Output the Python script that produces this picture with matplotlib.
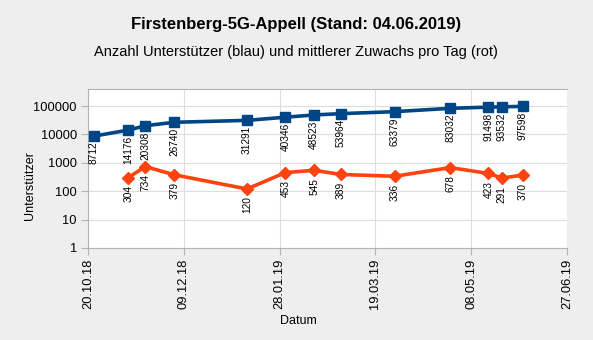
import matplotlib
matplotlib.use("Agg")
import matplotlib.pyplot as plt
import matplotlib.dates as mdates
import numpy as np
from datetime import datetime, timedelta

plt.rcParams['font.family'] = ['Liberation Sans', 'DejaVu Sans']

# Data
blue_dates = ["2018-10-23", "2018-11-10", "2018-11-19", "2018-12-04", "2019-01-11",
              "2019-01-31", "2019-02-15", "2019-03-01", "2019-03-29", "2019-04-27",
              "2019-05-17", "2019-05-24", "2019-06-04"]
supporters = [8712, 14176, 20308, 26740, 31291, 40346, 48523, 53964, 63379, 83032,
              91498, 93532, 97598]
red_dates = blue_dates[1:]
growth = [304, 734, 379, 120, 453, 545, 389, 336, 678, 423, 291, 370]
tick_labels = ["20.10.18", "09.12.18", "28.01.19", "19.03.19", "08.05.19", "27.06.19"]
y_ticks = [1, 10, 100, 1000, 10000, 100000]

title = "Firstenberg-5G-Appell (Stand: 04.06.2019)"
subtitle = "Anzahl Unterstützer (blau) und mittlerer Zuwachs pro Tag (rot)"

bd = [datetime.strptime(d, "%Y-%m-%d") for d in blue_dates]
rd = [datetime.strptime(d, "%Y-%m-%d") for d in red_dates]
tick_dates = [datetime.strptime(t, "%d.%m.%y") for t in tick_labels]

BG = "#eeeeee"
BLUE = "#004586"
RED = "#ff420e"

fig = plt.figure(figsize=(5.93, 3.40), dpi=100, facecolor=BG)
ax = fig.add_axes([88/593, 92/340, 479/593, 159/340])
ax.set_facecolor("white")

ax.set_yscale("log")
ax.set_ylim(1, 10**5.6)
ax.set_xlim(tick_dates[0], tick_dates[-1])

ax.set_yticks(y_ticks)
ax.set_yticklabels([str(v) for v in y_ticks])
ax.yaxis.set_minor_locator(matplotlib.ticker.NullLocator())
ax.set_xticks(tick_dates)
ax.set_xticklabels(tick_labels, rotation=90)

ax.grid(True, color="#dddddd", linewidth=0.8)
ax.set_axisbelow(True)

for s in ["left", "bottom", "top"]:
    ax.spines[s].set_color("#b3b3b3")
    ax.spines[s].set_linewidth(0.8)
ax.spines["right"].set_visible(False)

ax.tick_params(axis="both", colors="#b3b3b3", labelcolor="#000000", labelsize=9.3,
               length=5, width=0.8, pad=3)

ax.plot(bd, supporters, color=BLUE, linewidth=2.6, marker="s", markersize=7, zorder=3)
ax.plot(rd, growth, color=RED, linewidth=2.6, marker="D", markersize=6.5, zorder=3)

for d, v in zip(bd, supporters):
    ax.annotate(str(v), (d, v), xytext=(0, -4), textcoords="offset points",
                rotation=90, ha="center", va="top", fontsize=7.3, color="#000000")
for d, v in zip(rd, growth):
    ax.annotate(str(v), (d, v), xytext=(0, -5.5), textcoords="offset points",
                rotation=90, ha="center", va="top", fontsize=7.3, color="#000000")

fig.text(296/593, 1 - 25/340, title, ha="center", va="center", fontsize=12,
         fontweight="bold")
fig.text(296/593, 1 - 52/340, subtitle, ha="center", va="center", fontsize=10.5)
fig.text(30/593, 1 - 186/340, "Unterstützer", ha="center", va="center", rotation=90,
         fontsize=9)
fig.text(298/593, 1 - 321/340, "Datum", ha="center", va="center", fontsize=9)

fig.savefig("out.png", dpi=100, facecolor=BG)
